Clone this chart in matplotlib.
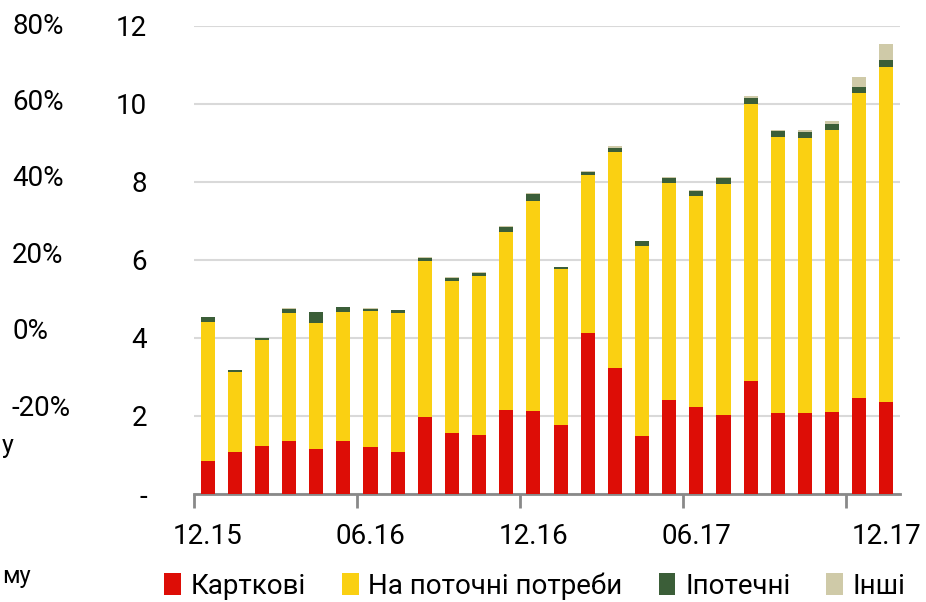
import numpy as np
import matplotlib
matplotlib.use("Agg")
import matplotlib.pyplot as plt
from matplotlib.patches import Patch

# monthly stacked segments, bn UAH (12.15 ... 12.17)
cards = [0.85, 1.07, 1.22, 1.37, 1.16, 1.37, 1.20, 1.08, 1.98, 1.56, 1.52, 2.16, 2.14,
         1.78, 4.14, 3.23, 1.49, 2.42, 2.22, 2.03, 2.91, 2.07, 2.07, 2.09, 2.45, 2.35]
current_needs = [3.55, 2.07, 2.73, 3.27, 3.22, 3.30, 3.48, 3.55, 4.00, 3.90, 4.07, 4.57, 5.37,
                 3.99, 4.05, 5.55, 4.88, 5.56, 5.43, 5.93, 7.08, 7.08, 7.07, 7.25, 7.82, 8.59]
mortgage = [0.13, 0.03, 0.04, 0.10, 0.28, 0.12, 0.07, 0.08, 0.07, 0.08, 0.08, 0.11, 0.18,
            0.04, 0.06, 0.09, 0.11, 0.12, 0.12, 0.14, 0.17, 0.15, 0.15, 0.14, 0.17, 0.19]
other = [0.02, 0.01, 0.01, 0.03, 0.01, 0.01, 0.02, 0.01, 0.02, 0.02, 0.01, 0.02, 0.03,
         0.02, 0.02, 0.06, 0.02, 0.03, 0.03, 0.03, 0.05, 0.04, 0.05, 0.09, 0.24, 0.41]

series_names = ['Карткові', 'На поточні потреби', 'Іпотечні', 'Інші']
colors = ['#DD0D06', '#FAD012', '#3B5E38', '#CFCAA8']

label_pos = [0, 6, 12, 18, 25]
label_text = ['12.15', '06.16', '12.16', '06.17', '12.17']
yticks = [0, 2, 4, 6, 8, 10, 12]

# axis labels of the neighbouring chart on the left
left_labels = ['80%', '60%', '40%', '20%', '0%', '-20%']

plt.rcParams['font.family'] = ['Roboto', 'DejaVu Sans']

fig = plt.figure(figsize=(9.26, 6.02), dpi=100)
ax = fig.add_axes([194 / 926, 1 - 494 / 602, 706 / 926, 468 / 602])

x = np.arange(len(cards))
bottom = np.zeros(len(cards))
for vals, col in zip([cards, current_needs, mortgage, other], colors):
    ax.bar(x, vals, width=0.52, bottom=bottom, color=col, zorder=3)
    bottom += np.array(vals)

ax.set_xlim(-0.5, len(cards) - 0.5)
ax.set_ylim(0, 12)
ax.set_yticks(yticks)
ax.set_yticklabels(['-' if v == 0 else str(v) for v in yticks])
ax.tick_params(axis='y', length=0, pad=34, labelsize=20)
ax.grid(axis='y', color='#D9D9D9', linewidth=1.5, zorder=0)

ax.set_xticks([-0.5, 5.5, 11.5, 17.5, 23.5])
ax.set_xticklabels([])
ax.tick_params(axis='x', which='major', length=10, width=2, color='#898989')
ax.set_xticks(label_pos, minor=True)
ax.set_xticklabels(label_text, minor=True)
ax.tick_params(axis='x', which='minor', length=0, pad=21, labelsize=20)

for s in ['top', 'right', 'left']:
    ax.spines[s].set_visible(False)
ax.spines['bottom'].set_color('#898989')
ax.spines['bottom'].set_linewidth(2)

for i, t in enumerate(left_labels):
    ypix = 26 + i * 76.4
    fig.text(12 / 926, 1 - ypix / 602, t, fontsize=20, va='center', ha='left')
fig.text(2 / 926, 1 - 446 / 602, 'у', fontsize=18, va='center', ha='left')
fig.text(2 / 926, 1 - 576 / 602, 'му', fontsize=17, va='center', ha='left')

handles = [Patch(facecolor=c, edgecolor='none') for c in colors]
fig.legend(handles, series_names, loc='center', ncol=4, frameon=False,
           bbox_to_anchor=(535 / 926, 1 - 586 / 602), fontsize=20,
           handlelength=0.6, handleheight=0.8, handletextpad=0.35, columnspacing=1.3,
           borderpad=0.2)

fig.savefig('out.png', dpi=100)
